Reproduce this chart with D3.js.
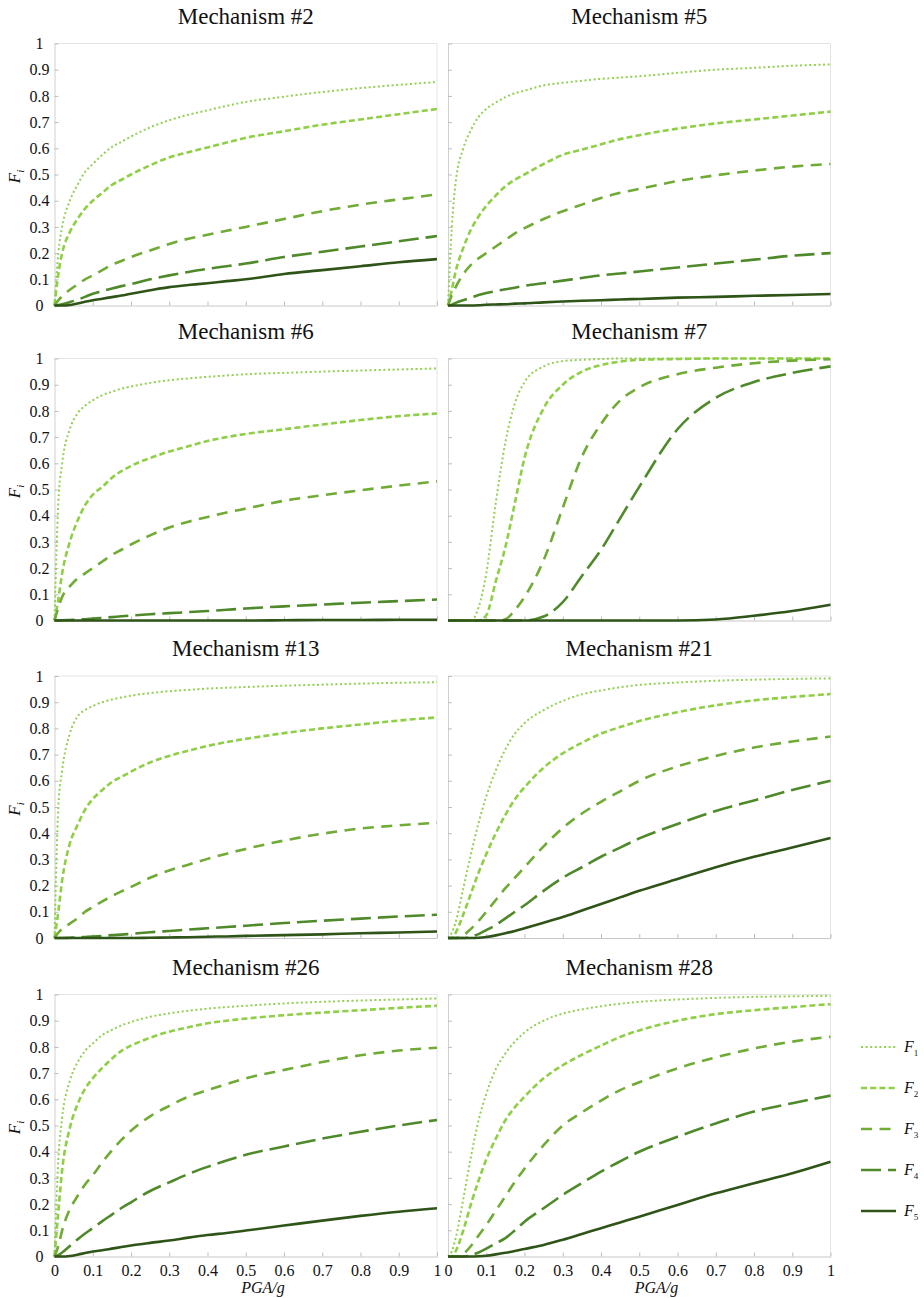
<!DOCTYPE html>
<html>
<head>
<meta charset="utf-8">
<script src="https://cdn.jsdelivr.net/npm/d3@7"></script>
<style>
  html, body { margin: 0; padding: 0; background: #fff; }
</style>
</head>
<body>
<svg id="chart" width="924" height="1298"></svg>
<script>
// ---------------- DATA ----------------
const pga = [0, 0.01, 0.02, 0.04, 0.06, 0.08, 0.1, 0.125, 0.15, 0.175, 0.2, 0.25, 0.3, 0.35, 0.4, 0.45, 0.5, 0.6, 0.7, 0.8, 0.9, 1];
const seriesNames = ["1", "2", "3", "4", "5"];
const xTicks = [0, 0.1, 0.2, 0.3, 0.4, 0.5, 0.6, 0.7, 0.8, 0.9, 1];
const yTicks = [0, 0.1, 0.2, 0.3, 0.4, 0.5, 0.6, 0.7, 0.8, 0.9, 1];
const titles = ["Mechanism #2", "Mechanism #5", "Mechanism #6", "Mechanism #7",
                "Mechanism #13", "Mechanism #21", "Mechanism #26", "Mechanism #28"];

const mech2 = [
  [0, 0.2, 0.3, 0.4, 0.46, 0.51, 0.54, 0.575, 0.605, 0.625, 0.645, 0.68, 0.707, 0.728, 0.745, 0.762, 0.777, 0.797, 0.815, 0.83, 0.842, 0.853],
  [0, 0.12, 0.2, 0.28, 0.33, 0.37, 0.4, 0.43, 0.46, 0.48, 0.5, 0.535, 0.565, 0.585, 0.603, 0.622, 0.64, 0.665, 0.69, 0.71, 0.73, 0.75],
  [0, 0.02, 0.035, 0.06, 0.08, 0.1, 0.115, 0.135, 0.155, 0.17, 0.185, 0.21, 0.235, 0.255, 0.27, 0.285, 0.3, 0.33, 0.36, 0.385, 0.405, 0.424],
  [0, 0.002, 0.005, 0.013, 0.022, 0.033, 0.045, 0.055, 0.065, 0.074, 0.082, 0.1, 0.115, 0.128, 0.14, 0.15, 0.16, 0.185, 0.205, 0.225, 0.245, 0.265],
  [0, 0, 0, 0.002, 0.008, 0.014, 0.02, 0.026, 0.032, 0.038, 0.045, 0.058, 0.07, 0.078, 0.085, 0.093, 0.1, 0.12, 0.135, 0.15, 0.165, 0.177]
];
const mech5 = [
  [0, 0.3, 0.47, 0.6, 0.67, 0.72, 0.75, 0.775, 0.795, 0.81, 0.82, 0.84, 0.85, 0.858, 0.865, 0.87, 0.875, 0.888, 0.9, 0.907, 0.915, 0.92],
  [0, 0.06, 0.13, 0.22, 0.29, 0.34, 0.38, 0.42, 0.455, 0.48, 0.5, 0.54, 0.575, 0.595, 0.615, 0.635, 0.65, 0.675, 0.695, 0.71, 0.725, 0.74],
  [0, 0.04, 0.07, 0.12, 0.155, 0.18, 0.2, 0.225, 0.25, 0.275, 0.295, 0.33, 0.36, 0.385, 0.41, 0.43, 0.445, 0.475, 0.497, 0.515, 0.53, 0.54],
  [0, 0.003, 0.01, 0.02, 0.03, 0.04, 0.048, 0.055, 0.062, 0.068, 0.075, 0.085, 0.095, 0.105, 0.115, 0.122, 0.13, 0.145, 0.16, 0.175, 0.19, 0.2],
  [0, 0, 0, 0, 0, 0.001, 0.003, 0.004, 0.005, 0.007, 0.008, 0.012, 0.015, 0.018, 0.02, 0.023, 0.025, 0.03, 0.033, 0.037, 0.04, 0.044]
];
const mech6 = [
  [0, 0.45, 0.6, 0.73, 0.79, 0.82, 0.84, 0.86, 0.873, 0.885, 0.893, 0.907, 0.917, 0.924, 0.93, 0.935, 0.94, 0.945, 0.95, 0.954, 0.958, 0.962],
  [0, 0.08, 0.18, 0.3, 0.38, 0.44, 0.48, 0.51, 0.545, 0.57, 0.59, 0.62, 0.645, 0.665, 0.685, 0.7, 0.712, 0.73, 0.748, 0.765, 0.78, 0.79],
  [0, 0.05, 0.09, 0.13, 0.16, 0.18, 0.2, 0.225, 0.25, 0.27, 0.29, 0.325, 0.355, 0.377, 0.395, 0.412, 0.427, 0.457, 0.478, 0.497, 0.515, 0.531],
  [0, 0, 0.001, 0.002, 0.003, 0.005, 0.007, 0.01, 0.013, 0.016, 0.019, 0.024, 0.028, 0.032, 0.036, 0.041, 0.046, 0.054, 0.061, 0.068, 0.074, 0.08],
  [0, 0, 0, 0, 0, 0, 0, 0, 0, 0, 0, 0, 0, 0, 0, 0, 0, 0.001, 0.002, 0.002, 0.003, 0.003]
];
const mech7 = [
  [0, 0, 0, 0, 0, 0.05, 0.18, 0.45, 0.68, 0.83, 0.91, 0.97, 0.99, 0.995, 0.998, 1, 1, 1, 1, 1, 1, 1],
  [0, 0, 0, 0, 0, 0, 0.02, 0.15, 0.28, 0.45, 0.62, 0.81, 0.9, 0.95, 0.975, 0.988, 0.995, 0.998, 1, 1, 1, 1],
  [0, 0, 0, 0, 0, 0, 0, 0, 0.005, 0.04, 0.09, 0.23, 0.43, 0.625, 0.75, 0.84, 0.89, 0.94, 0.965, 0.982, 0.992, 0.997],
  [0, 0, 0, 0, 0, 0, 0, 0, 0, 0, 0, 0.015, 0.07, 0.17, 0.27, 0.39, 0.51, 0.73, 0.85, 0.91, 0.945, 0.97],
  [0, 0, 0, 0, 0, 0, 0, 0, 0, 0, 0, 0, 0, 0, 0, 0, 0, 0, 0.004, 0.018, 0.036, 0.06]
];
const mech13 = [
  [0, 0.5, 0.64, 0.78, 0.845, 0.87, 0.885, 0.9, 0.91, 0.918, 0.925, 0.935, 0.942, 0.947, 0.952, 0.955, 0.958, 0.963, 0.967, 0.971, 0.974, 0.976],
  [0, 0.1, 0.22, 0.36, 0.43, 0.49, 0.53, 0.565, 0.595, 0.615, 0.635, 0.67, 0.695, 0.715, 0.733, 0.748, 0.76, 0.782, 0.8, 0.815, 0.83, 0.842],
  [0, 0.02, 0.035, 0.055, 0.075, 0.1, 0.118, 0.14, 0.16, 0.178, 0.195, 0.23, 0.258, 0.28, 0.302, 0.322, 0.34, 0.372, 0.398, 0.418, 0.43, 0.44],
  [0, 0, 0, 0.001, 0.002, 0.004, 0.006, 0.008, 0.011, 0.013, 0.016, 0.022, 0.027, 0.032, 0.037, 0.042, 0.047, 0.057, 0.066, 0.074, 0.082, 0.089],
  [0, 0, 0, 0, 0, 0, 0, 0, 0, 0, 0, 0.001, 0.002, 0.003, 0.005, 0.006, 0.008, 0.011, 0.014, 0.018, 0.021, 0.025]
];
const mech21 = [
  [0, 0.02, 0.06, 0.19, 0.32, 0.44, 0.54, 0.64, 0.72, 0.78, 0.82, 0.87, 0.905, 0.93, 0.945, 0.957, 0.966, 0.975, 0.982, 0.986, 0.989, 0.991],
  [0, 0, 0.02, 0.09, 0.17, 0.25, 0.32, 0.4, 0.47, 0.53, 0.575, 0.65, 0.705, 0.745, 0.78, 0.805, 0.828, 0.862, 0.888, 0.907, 0.92, 0.931],
  [0, 0, 0, 0.01, 0.035, 0.065, 0.1, 0.145, 0.19, 0.23, 0.27, 0.35, 0.42, 0.475, 0.52, 0.56, 0.6, 0.655, 0.695, 0.727, 0.75, 0.769],
  [0, 0, 0, 0, 0.005, 0.015, 0.03, 0.05, 0.075, 0.1, 0.125, 0.18, 0.23, 0.27, 0.31, 0.345, 0.38, 0.435, 0.485, 0.525, 0.565, 0.6],
  [0, 0, 0, 0, 0, 0.001, 0.004, 0.01, 0.018, 0.027, 0.037, 0.058, 0.08, 0.105, 0.13, 0.155, 0.18, 0.225, 0.27, 0.31, 0.345, 0.382]
];
const mech26 = [
  [0, 0.37, 0.53, 0.67, 0.74, 0.785, 0.813, 0.845, 0.865, 0.882, 0.895, 0.915, 0.928, 0.938, 0.946, 0.952, 0.957, 0.966, 0.972, 0.977, 0.981, 0.985],
  [0, 0.17, 0.33, 0.49, 0.58, 0.64, 0.68, 0.72, 0.755, 0.785, 0.805, 0.835, 0.858, 0.875, 0.89, 0.9, 0.908, 0.921, 0.931, 0.94, 0.949, 0.957],
  [0, 0.04, 0.1, 0.18, 0.23, 0.275, 0.31, 0.36, 0.405, 0.445, 0.48, 0.535, 0.575, 0.61, 0.635, 0.658, 0.68, 0.712, 0.742, 0.768, 0.786, 0.797],
  [0, 0.005, 0.015, 0.04, 0.065, 0.088, 0.108, 0.135, 0.16, 0.185, 0.207, 0.25, 0.283, 0.315, 0.342, 0.366, 0.388, 0.42, 0.45, 0.476, 0.5, 0.521],
  [0, 0, 0, 0.002, 0.007, 0.013, 0.019, 0.024, 0.03, 0.036, 0.042, 0.052, 0.061, 0.072, 0.082, 0.09, 0.099, 0.118, 0.137, 0.155, 0.171, 0.184]
];
const mech28 = [
  [0, 0.02, 0.07, 0.22, 0.38, 0.52, 0.62, 0.715, 0.775, 0.82, 0.855, 0.9, 0.927, 0.943, 0.955, 0.965, 0.972, 0.981, 0.987, 0.991, 0.993, 0.995],
  [0, 0, 0.02, 0.1, 0.2, 0.29, 0.37, 0.45, 0.52, 0.57, 0.61, 0.68, 0.73, 0.77, 0.805, 0.838, 0.863, 0.9, 0.925, 0.94, 0.952, 0.963],
  [0, 0, 0, 0.01, 0.04, 0.08, 0.12, 0.175, 0.23, 0.285, 0.335, 0.425, 0.5, 0.55, 0.595, 0.635, 0.665, 0.718, 0.76, 0.794, 0.82, 0.839],
  [0, 0, 0, 0, 0.005, 0.015, 0.03, 0.05, 0.07, 0.1, 0.133, 0.184, 0.235, 0.28, 0.324, 0.363, 0.4, 0.457, 0.508, 0.553, 0.585, 0.614],
  [0, 0, 0, 0, 0, 0.001, 0.003, 0.008, 0.014, 0.021, 0.029, 0.044, 0.064, 0.086, 0.108, 0.13, 0.152, 0.197, 0.241, 0.28, 0.318, 0.362]
];
const mechanisms = [mech2, mech5, mech6, mech7, mech13, mech21, mech26, mech28];

// ---------------- STYLE ----------------
const FONT = "Liberation Serif";
const colors = ["#92d050", "#8fcf45", "#6fab35", "#4f8a2a", "#2f5418"];
const dashes = ["2,2.6", "6,3.2", "11,7.5", "20,7", null];
const widths = [2, 2.6, 2.6, 2.6, 2.6];

// ---------------- LAYOUT ----------------
const colX = [54.5, 448];
const plotW = 382.5;
const rowY = [43.5, 358.5, 676, 994.5];
const plotH = 262;

const svg = d3.select("#chart").attr("font-family", FONT);

mechanisms.forEach((mech, idx) => {
  const col = idx % 2, row = Math.floor(idx / 2);
  const x0 = colX[col], y0 = rowY[row];
  const x = d3.scaleLinear().domain([0, 1]).range([x0, x0 + plotW]);
  const y = d3.scaleLinear().domain([0, 1]).range([y0 + plotH, y0]);
  const g = svg.append("g");

  // frame
  g.append("line").attr("x1", x0 + plotW).attr("x2", x0 + plotW).attr("y1", y0).attr("y2", y0 + plotH)
    .attr("stroke", "#e4e4e4").attr("stroke-width", 1);
  g.append("line").attr("x1", x0).attr("x2", x0 + plotW).attr("y1", y0).attr("y2", y0)
    .attr("stroke", "#e4e4e4").attr("stroke-width", 1);

  // bottom axis
  const xAxis = d3.axisBottom(x).tickValues(xTicks).tickSizeInner(-4).tickSizeOuter(0)
    .tickFormat(row === 3 ? d3.format("") : () => "");
  const gx = g.append("g").attr("transform", `translate(0,${y0 + plotH})`).call(xAxis)
    .attr("font-family", FONT);
  gx.select(".domain").attr("stroke", "#c8c8c8");
  gx.selectAll(".tick line").attr("stroke", "#bdbdbd");
  gx.selectAll(".tick text").attr("font-size", 16).attr("fill", "#111")
    .style("font-family", FONT).attr("dy", "1.02em");

  // left axis
  const yAxis = d3.axisLeft(y).tickValues(yTicks).tickSizeInner(-4).tickSizeOuter(0)
    .tickFormat(col === 0 ? d3.format("") : () => "");
  const gy = g.append("g").attr("transform", `translate(${x0},0)`).call(yAxis)
    .attr("font-family", FONT);
  gy.select(".domain").attr("stroke", "#d0d0d0");
  gy.selectAll(".tick line").attr("stroke", "#bdbdbd");
  gy.selectAll(".tick text").attr("font-size", 16).attr("fill", "#111")
    .style("font-family", FONT)
    .attr("text-anchor", "middle").attr("x", -15);

  // title
  g.append("text").attr("x", x0 + plotW / 2).attr("y", y0 - 20)
    .attr("text-anchor", "middle").attr("font-size", 23).attr("fill", "#111")
    .style("font-family", FONT)
    .text(titles[idx]);

  // y label
  if (col === 0) {
    const t = g.append("text")
      .attr("transform", `translate(20,${y0 + plotH / 2 + 2}) rotate(-90)`)
      .attr("text-anchor", "middle").attr("font-size", 17).attr("fill", "#111")
      .style("font-family", FONT);
    t.append("tspan").attr("font-style", "italic").text("F");
    t.append("tspan").attr("font-style", "italic").attr("font-size", 11).attr("dy", 4).text("i");
  }
  // x label
  if (row === 3) {
    g.append("text").attr("x", x0 + plotW * 0.545).attr("y", y0 + plotH + 36.5)
      .attr("text-anchor", "middle").attr("font-size", 16).attr("font-style", "italic")
      .style("font-family", FONT)
      .attr("fill", "#111").text("PGA/g");
  }

  // lines
  const line = d3.line().x(d => x(d[0])).y(d => y(d[1])).curve(d3.curveMonotoneX);
  mech.forEach((vals, si) => {
    const pts = pga.map((p, i) => [p, vals[i]]);
    const path = g.append("path").datum(pts).attr("d", line)
      .attr("fill", "none").attr("stroke", colors[si]).attr("stroke-width", widths[si]);
    if (dashes[si]) path.attr("stroke-dasharray", dashes[si]);
  });
});

// ---------------- LEGEND ----------------
const legendY = [1047, 1088, 1129, 1170, 1211];
const legend = svg.append("g");
seriesNames.forEach((name, i) => {
  const ly = legendY[i];
  const l = legend.append("line").attr("x1", 861).attr("x2", 896).attr("y1", ly).attr("y2", ly)
    .attr("stroke", colors[i]).attr("stroke-width", widths[i]);
  if (dashes[i]) l.attr("stroke-dasharray", dashes[i]);
  const t = legend.append("text").attr("x", 904).attr("y", ly + 5).attr("font-size", 16)
    .attr("fill", "#111").style("font-family", FONT);
  t.append("tspan").attr("font-style", "italic").text("F");
  t.append("tspan").attr("font-size", 9).attr("dy", 4).text(name);
});
</script>
</body>
</html>
